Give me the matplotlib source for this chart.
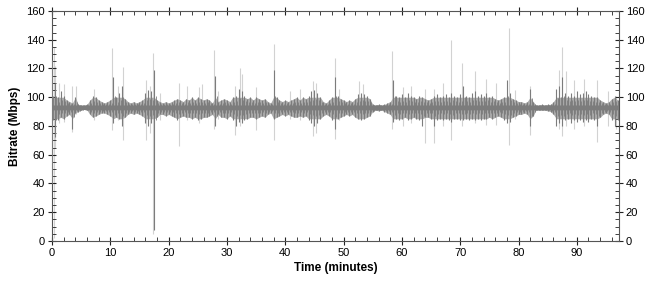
import numpy as np
import matplotlib.pyplot as plt
from matplotlib.ticker import MultipleLocator
from matplotlib import rcParams

rcParams["font.family"] = ["Liberation Sans", "DejaVu Sans"]
DARK = "#7c7c7c"; MID = "#ababab"; LIGHT = "#d2d2d2"; AXC = "#555555"

# dark trace envelope, one (hi, lo) pair per half-minute bin, 0..97 min
bin_t = np.arange(0, 97.01, 0.5)
hi = [126, 110, 100, 104, 101, 98, 97, 96, 100, 95,
      94.5, 94.5, 95, 98, 101, 100, 98, 97, 96, 97,
      98, 114, 100, 103, 108, 99, 97, 96, 97, 96,
      97, 98, 103, 105, 104, 119, 98, 97, 96, 97,
      96, 97, 98, 99, 98, 97, 99, 98, 100, 98,
      100, 99, 98, 99, 98, 96, 115, 97, 98, 99,
      98, 97, 100, 101, 106, 104, 101, 99, 100, 98,
      100, 99, 98, 99, 97, 96, 119, 100, 98, 97,
      98, 97, 98, 99, 100, 98, 100, 99, 101, 104,
      105, 103, 100, 97, 96, 98, 100, 114, 101, 99,
      98, 97, 98, 97, 99, 102, 103, 102, 101, 99,
      95, 94.5, 95, 94.5, 95, 96, 97, 112, 101, 100,
      102, 100, 103, 101, 100, 99, 101, 100, 99, 98,
      99, 101, 102, 100, 101, 102, 100, 103, 101, 100,
      102, 108, 101, 100, 103, 104, 101, 102, 101, 103,
      100, 101, 99, 98, 99, 100, 112, 103, 99, 98,
      97, 97, 96, 97, 106, 97, 94.5, 94.5, 95, 94.5,
      95, 95, 97, 106, 108, 114, 103, 101, 103, 101,
      104, 102, 103, 104, 102, 101, 100, 100, 98, 97,
      96, 97, 99, 101, 98]
lo = [40, 72, 84, 86, 85, 87, 88, 78, 89, 90,
      91, 91.5, 91, 88, 86, 87, 88, 89, 89, 88,
      87, 82, 86, 85, 80, 86, 88, 89, 88, 89,
      88, 87, 82, 80, 82, 8, 86, 88, 88, 87,
      88, 87, 86, 84, 86, 87, 86, 86, 85, 86,
      84, 85, 86, 86, 87, 88, 80, 88, 86, 86,
      85, 87, 84, 80, 83, 82, 84, 85, 86, 86,
      85, 86, 87, 86, 88, 89, 85, 86, 87, 88,
      87, 88, 87, 86, 86, 87, 86, 87, 84, 82,
      80, 82, 85, 87, 88, 87, 84, 78, 85, 86,
      87, 88, 87, 88, 86, 85, 84, 85, 86, 87,
      90, 91, 90.5, 91, 90, 89, 88, 83, 85, 84,
      85, 86, 84, 85, 86, 85, 84, 80, 86, 86,
      85, 80, 84, 85, 84, 85, 84, 83, 85, 85,
      84, 84, 85, 84, 85, 84, 85, 84, 85, 85,
      86, 85, 86, 87, 86, 84, 82, 83, 86, 87,
      88, 88, 89, 88, 80, 87, 91, 91, 91, 91,
      90.5, 90, 88, 80, 82, 80, 84, 85, 82, 84,
      83, 84, 83, 84, 83, 85, 84, 80, 86, 88,
      89, 88, 84, 80, 84]

# steady core of the trace around the nominal rate
core_lo, core_hi = 91.2, 94.6

# isolated thin excursions (light gray): time, top, bottom
spike_t = [0.35, 0.6, 1.2, 2.1, 3.4, 4.1, 7.2, 10.3, 11.3, 12.1, 16.2, 16.8, 17.3,
           18.5, 21.7, 23.2, 25.2, 25.8, 27.8, 28.5, 31.3, 32.2, 32.5, 34.9, 38.0,
           40.8, 42.6, 44.8, 45.3, 48.5, 49.2, 52.7, 53.4, 58.3, 60.2, 61.5, 63.9,
           65.5, 67.0, 68.5, 70.3, 72.5, 74.5, 76.2, 78.3, 79.4, 82.0, 86.9, 87.5,
           88.2, 89.6, 91.3, 93.5, 95.4, 96.8]
spike_top = [135, 122, 110, 109, 108, 108, 106, 134, 108, 121, 112, 108, 131,
             103, 110, 108, 107, 109, 133, 104, 108, 120, 116, 107, 137,
             104, 106, 111, 110, 127, 106, 111, 109, 132, 107, 108, 106,
             106, 110, 140, 124, 118, 113, 110, 148, 105, 108, 119, 135,
             118, 112, 113, 112, 104, 101]
spike_bot = [2, 65, 82, 83, 76, 88, 84, 77, 84, 70, 70, 75, 5,
             84, 66, 84, 82, 86, 78, 85, 74, 80, 83, 77, 70,
             85, 84, 73, 75, 71, 84, 85, 86, 78, 80, 82, 68,
             68, 80, 70, 80, 82, 81, 81, 67, 85, 74, 78, 73,
             80, 78, 80, 69, 80, 78]

fig = plt.figure(figsize=(6.5, 2.84), dpi=100)
ax = fig.add_axes([0.08, 0.1514, 0.872, 0.81])

ax.vlines(spike_t, spike_bot, spike_top, color=LIGHT, lw=0.8, zorder=1)

hi_a = np.array(hi); lo_a = np.array(lo)
# soft body of the band, spikes left to the thin strokes
ax.fill_between(bin_t, np.maximum(lo_a, 85), np.minimum(hi_a, 100),
                color=MID, lw=0, zorder=2)
ax.vlines(bin_t, lo_a, hi_a, color=DARK, lw=0.8, zorder=3)
# shorter in-between strokes, capped so lone spikes stay single lines
ax.vlines(bin_t + 0.25, np.maximum(np.maximum(lo_a, 0.6 * core_lo + 0.4 * lo_a), 84),
          np.minimum(np.minimum(hi_a, 0.6 * core_hi + 0.4 * hi_a), 101),
          color=DARK, lw=0.6, zorder=3)
ax.fill_between(bin_t, np.maximum(lo_a, core_lo), np.minimum(hi_a, core_hi),
                color=DARK, lw=0, zorder=4)

ax.set_xlim(0, 97.2)
ax.set_ylim(0, 160)
ax.xaxis.set_major_locator(MultipleLocator(10))
ax.xaxis.set_minor_locator(MultipleLocator(2))
ax.yaxis.set_major_locator(MultipleLocator(20))
ax.yaxis.set_minor_locator(MultipleLocator(5))
ax.tick_params(which="major", direction="inout", length=6, width=0.8, color="#222",
               labelsize=8, top=True, right=True, labelright=True, pad=2)
ax.tick_params(which="minor", direction="in", length=3, width=0.6, color="#222",
               top=True, right=True)
for s in ax.spines.values():
    s.set_color(AXC); s.set_linewidth(0.8)

ax.set_xlabel("Time (minutes)", fontsize=8.5, fontweight="bold", labelpad=3)
ax.set_ylabel("Bitrate (Mbps)", fontsize=8.5, fontweight="bold", labelpad=4)

fig.savefig("out.png", dpi=100, facecolor="white")
